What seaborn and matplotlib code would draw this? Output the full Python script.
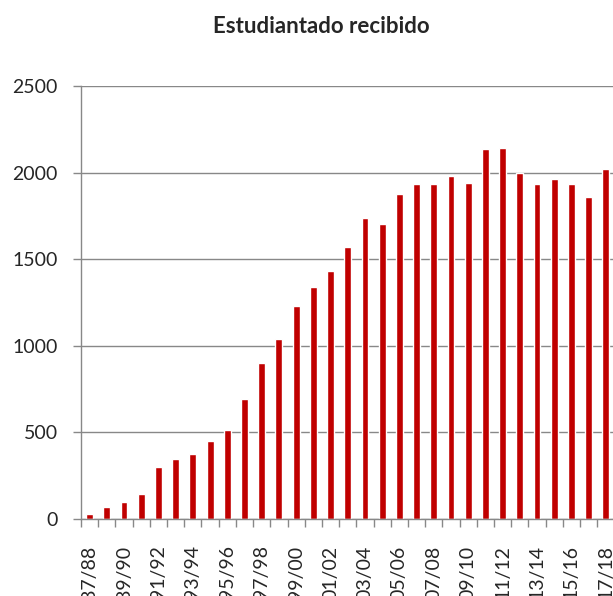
import matplotlib
matplotlib.use('Agg')
import matplotlib.pyplot as plt
import seaborn as sns
import numpy as np

# Data
cursos = ['87/88', '88/89', '89/90', '90/91', '91/92', '92/93', '93/94', '94/95',
          '95/96', '96/97', '97/98', '98/99', '99/00', '00/01', '01/02', '02/03',
          '03/04', '04/05', '05/06', '06/07', '07/08', '08/09', '09/10', '10/11',
          '11/12', '12/13', '13/14', '14/15', '15/16', '16/17', '17/18']
recibido = [31, 69, 96, 143, 298, 345, 374, 449, 512, 695, 899, 1038, 1230, 1342,
            1434, 1571, 1738, 1701, 1877, 1932, 1932, 1979, 1940, 2135, 2144, 1996,
            1932, 1961, 1932, 1857, 2023]
yticks = [0, 500, 1000, 1500, 2000, 2500]

sns.set_style('white')
plt.rcParams['font.family'] = ['Lato', 'DejaVu Sans']

grey = '#888888'
fig = plt.figure(figsize=(6.13, 5.96), dpi=100)
ax = fig.add_axes([81 / 613, 77 / 596, 550.7 / 613, 433 / 596])

sns.barplot(x=cursos, y=recibido, color='#C00000', saturation=1, width=0.4, ax=ax)

ax.set_ylim(0, 2500)
ax.set_xlim(-0.5, 31.5)
ax.set_yticks(yticks)
ax.set_yticklabels([str(t) for t in yticks], fontsize=14)
ax.grid(axis='y', color=grey, linewidth=1)
ax.set_axisbelow(True)

# labels every other course, boundary ticks as minor
ax.set_xticks(np.arange(0, len(cursos), 2))
ax.set_xticklabels(cursos[::2], rotation=90, fontsize=14, va='top', ha='center')
ax.set_xticks(np.arange(-0.5, len(cursos) + 1, 1), minor=True)
ax.tick_params(axis='x', which='major', length=0, pad=19)
ax.tick_params(axis='x', which='minor', length=5.5, width=1, color=grey, direction='out')
ax.tick_params(axis='y', length=5.8, width=1, color=grey, direction='out', pad=11)
ax.tick_params(axis='y', left=True)
ax.tick_params(axis='x', which='minor', bottom=True)

for side in ['top', 'right']:
    ax.spines[side].set_visible(False)
for side in ['left', 'bottom']:
    ax.spines[side].set_color(grey)
    ax.spines[side].set_linewidth(1)
ax.set_xlabel('')
ax.set_ylabel('')

fig.text(321.5 / 613, 1 - 33 / 596, 'Estudiantado recibido', ha='center', va='baseline',
         fontsize=16, fontweight='bold')

plt.savefig('out.png', dpi=100)
plt.close()
